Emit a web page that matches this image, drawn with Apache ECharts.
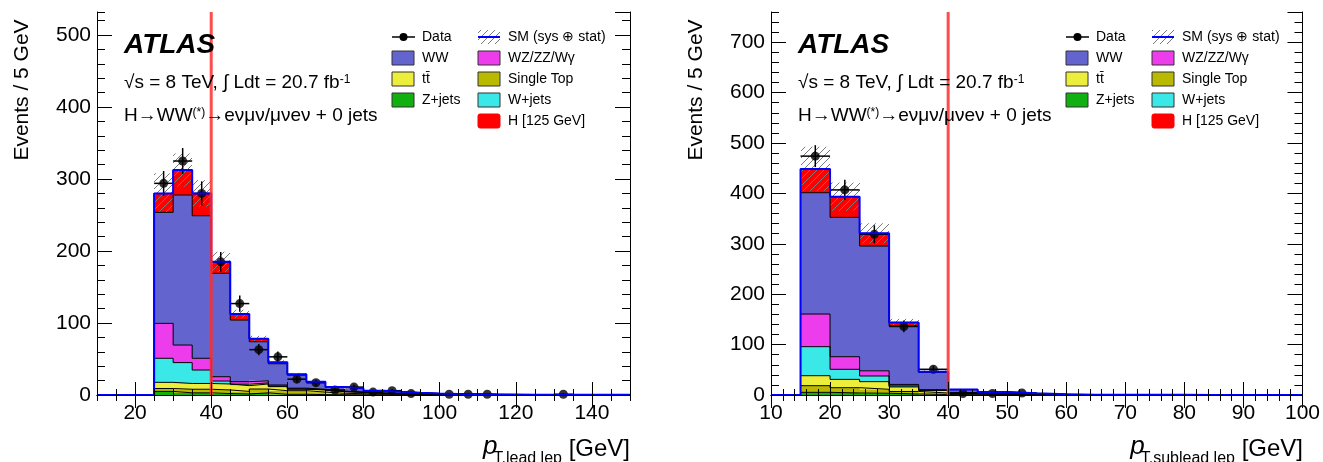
<!DOCTYPE html>
<html>
<head>
<meta charset="utf-8">
<script src="https://cdn.jsdelivr.net/npm/echarts@6.0.0/dist/echarts.min.js"></script>
<style>
html, body { margin: 0; padding: 0; background: #fff; }
#main { width: 1323px; height: 462px; }
</style>
</head>
<body>
<div id="main"></div>
<script>
var chartDom = document.getElementById('main');
var myChart = echarts.init(chartDom);
var option;

const FONT = '"Liberation Sans", Arial, Helvetica, sans-serif';

// Lower bin edges (5 GeV bins)
const leftEdges = [25, 30, 35, 40, 45, 50, 55, 60, 65, 70, 75, 80, 85, 90, 95,
                   100, 105, 110, 115, 120, 125, 130, 135, 140, 145];
const rightEdges = [15, 20, 25, 30, 35, 40, 45, 50, 55, 60, 65, 70, 75, 80, 85, 90, 95];

// Leading lepton pT, stacked backgrounds (bottom to top)
const leftZjets     = [5, 3, 3, 2, 1.5, 3, 1, 1, 0.5, 0.4, 0.3, 0.2, 0.1, 0.1, 0.1, 0, 0, 0, 0, 0, 0, 0, 0, 0, 0];
const leftSingleTop = [4, 5, 5, 5, 3.5, 5.3, 5, 5, 3.5, 2, 1.5, 1, 0.8, 0.5, 0.3, 0.2, 0.2, 0.1, 0.1, 0.1, 0.1, 0, 0, 0, 0];
const leftTtbar     = [8.6, 8, 8, 8.3, 8, 7, 5.6, 2, 3, 2.2, 1.7, 1.2, 0.9, 0.7, 0.5, 0.4, 0.3, 0.2, 0.2, 0.1, 0.1, 0.1, 0.1, 0.1, 0.1];
const leftWjets     = [33.4, 29, 18.7, 4.1, 2, 1.5, 0.8, 0.5, 0.3, 0.3, 0.2, 0.1, 0.1, 0.1, 0.05, 0, 0, 0, 0, 0, 0, 0, 0, 0, 0];
const leftWZ        = [48.5, 24.4, 16.3, 6, 3.5, 3, 1.5, 1, 0.7, 0.5, 0.4, 0.3, 0.2, 0.2, 0.1, 0.1, 0.1, 0.05, 0, 0, 0, 0, 0, 0, 0];
const leftWW        = [154.2, 208.4, 198, 143.6, 85.5, 54.2, 29.5, 18, 9.8, 5.2, 4.9, 3, 2.4, 1.6, 1, 0.8, 0.6, 0.5, 0.4, 0.3, 0.3, 0.2, 0.2, 0.15, 0.1];
const leftHiggs     = [26.3, 34.7, 31, 16, 8.5, 4.2, 2, 1.2, 0.7, 0.4, 0.2, 0.2, 0.1, 0.1, 0.05, 0, 0, 0, 0, 0, 0, 0, 0, 0, 0];
const leftSmErr     = [28, 23, 18.5, 14, 6, 4, 3, 2, 1.5, 1, 0.8, 0.6, 0.5, 0.4, 0.3, 0.2, 0.2, 0.1, 0.1, 0.1, 0.1, 0.1, 0.1, 0.1, 0.1];
const leftData      = [294, 325, 280, 185, 127, 63, 53, 22, 17, 7, 11, 4, 6, 2, null, 1, 1, 1, null, null, null, 1, null, null, null];

// Subleading lepton pT
const rightZjets     = [5.3, 4, 3.5, 2, 1, 0.3, 0.1, 0.1, 0, 0, 0, 0, 0, 0, 0, 0, 0];
const rightSingleTop = [13.2, 10.5, 7.8, 5, 3, 1.5, 0.8, 0.4, 0.2, 0.1, 0.1, 0, 0, 0, 0, 0, 0];
const rightTtbar     = [19.8, 16.5, 15.2, 9, 5, 2, 1.2, 0.6, 0.3, 0.15, 0.1, 0.1, 0.05, 0, 0, 0, 0];
const rightWjets     = [57.6, 20, 11.2, 2, 0.5, 0.3, 0.1, 0.05, 0, 0, 0, 0, 0, 0, 0, 0, 0];
const rightWZ        = [64.8, 25, 10.3, 3, 1, 0.5, 0.3, 0.2, 0.05, 0, 0, 0, 0, 0, 0, 0, 0];
const rightWW        = [240.7, 276.5, 247.6, 116, 34.5, 6, 3.5, 1.8, 0.9, 0.4, 0.4, 0.3, 0.2, 0.15, 0.1, 0.1, 0.05];
const rightHiggs     = [47, 41, 25.2, 7, 1, 0.4, 0.2, 0.1, 0, 0, 0, 0, 0, 0, 0, 0, 0];
const rightSmErr     = [44, 28, 20, 7, 3, 1, 0.6, 0.4, 0.2, 0.1, 0.1, 0.1, 0.05, 0, 0, 0, 0];
const rightData      = [474, 407, 319, 136, 51, 3, 3, 4, null, null, null, null, null, null, null, null, null];

const leftTicks = [20, 40, 60, 80, 100, 120, 140];

const colors = {
  zjets: '#10b010',
  stop: '#b9b900',
  ttbar: '#eded3b',
  wjets: '#3ae8e8',
  wz: '#ec3cec',
  ww: '#6464cf',
  higgs: '#ff0000'
};

// diagonal hatch for the SM uncertainty band
function hatchCanvas() {
  const c = document.createElement('canvas');
  c.width = 7; c.height = 7;
  const ctx = c.getContext('2d');
  ctx.strokeStyle = '#7a7a7a';
  ctx.lineWidth = 1;
  ctx.beginPath();
  ctx.moveTo(0, 7); ctx.lineTo(7, 0);
  ctx.moveTo(-1, 1); ctx.lineTo(1, -1);
  ctx.moveTo(6, 8); ctx.lineTo(8, 6);
  ctx.stroke();
  return c;
}
const hatch = { image: hatchCanvas(), repeat: 'repeat' };

function rectItem(fill) {
  return function (params, api) {
    const a = api.coord([api.value(0), api.value(3)]);
    const b = api.coord([api.value(1), api.value(2)]);
    const x0 = Math.round(a[0]), x1 = Math.round(b[0]);
    return {
      type: 'rect',
      shape: { x: x0, y: a[1], width: x1 - x0, height: b[1] - a[1] },
      style: { fill: fill }
    };
  };
}

function stepLine(edges, vals, xi, yi, xmin, color, width) {
  const pts = [[xmin, 0]];
  edges.forEach(function (e, i) { pts.push([e, vals[i]]); });
  pts.push([edges[edges.length - 1] + 5, vals[vals.length - 1]]);
  return {
    type: 'line', step: 'end', symbol: 'none', silent: true,
    xAxisIndex: xi, yAxisIndex: yi, data: pts,
    lineStyle: { color: color, width: width }
  };
}

function panelSeries(edges, comps, data, smErr, xi, yi, xmin, ymax) {
  const out = [];
  let cum = edges.map(function () { return 0; });
  const layers = [];
  comps.forEach(function (c) {
    const lo = cum.slice();
    const hi = cum.map(function (v, i) { return v + c.values[i]; });
    layers.push({ lo: lo, hi: hi, color: c.color });
    cum = hi;
  });
  layers.forEach(function (l) {
    out.push({
      type: 'custom', silent: true, xAxisIndex: xi, yAxisIndex: yi,
      data: edges.map(function (e, i) { return [e, e + 5, l.lo[i], l.hi[i]]; })
        .filter(function (d) { return d[3] > d[2]; }),
      renderItem: rectItem(l.color)
    });
  });
  layers.slice().reverse().forEach(function (l) {
    out.push(stepLine(edges, l.hi, xi, yi, xmin, '#000', 1));
  });
  // uncertainty band
  out.push({
    type: 'custom', silent: true, xAxisIndex: xi, yAxisIndex: yi,
    data: edges.map(function (e, i) {
      return [e, e + 5, Math.max(0, cum[i] - smErr[i]), cum[i] + smErr[i]];
    }).filter(function (d) { return d[3] - d[2] > 0.3; }),
    renderItem: rectItem(hatch)
  });
  out.push(stepLine(edges, cum, xi, yi, xmin, '#0000ff', 2));
  // cut line at 40 GeV
  out.push({
    type: 'line', symbol: 'none', silent: true, xAxisIndex: xi, yAxisIndex: yi,
    data: [[40, 0], [40, ymax]],
    lineStyle: { color: 'rgba(255,45,45,0.85)', width: 3 }
  });
  const pts = [];
  edges.forEach(function (e, i) {
    if (data[i] !== null) pts.push([e + 2.5, data[i], Math.sqrt(data[i])]);
  });
  out.push({
    type: 'custom', silent: true, xAxisIndex: xi, yAxisIndex: yi, data: pts,
    renderItem: function (params, api) {
      const x = api.value(0), y = api.value(1), e = api.value(2);
      const l = api.coord([x - 2.5, y]), r = api.coord([x + 2.5, y]);
      const t = api.coord([x, y + e]), b = api.coord([x, Math.max(0, y - e)]);
      return {
        type: 'group', children: [
          { type: 'line', shape: { x1: l[0], y1: l[1], x2: r[0], y2: r[1] }, style: { stroke: '#000', lineWidth: 1.5 } },
          { type: 'line', shape: { x1: t[0], y1: t[1], x2: b[0], y2: b[1] }, style: { stroke: '#000', lineWidth: 1.5 } }
        ]
      };
    }
  });
  out.push({
    type: 'scatter', silent: true, xAxisIndex: xi, yAxisIndex: yi,
    symbol: 'circle', symbolSize: 9, itemStyle: { color: '#000' },
    data: pts.map(function (p) { return [p[0], p[1]]; })
  });
  return out;
}

function compList(z, st, tt, wj, wz, ww, h) {
  return [
    { values: z, color: colors.zjets },
    { values: st, color: colors.stop },
    { values: tt, color: colors.ttbar },
    { values: wj, color: colors.wjets },
    { values: wz, color: colors.wz },
    { values: ww, color: colors.ww },
    { values: h, color: colors.higgs }
  ];
}

const LEFT_YMAX = 532;
const RIGHT_YMAX = 760;

// y axes: 0/1 short ticks, 2/3 long ticks (left panel); 4..7 the same for the right panel
let series = [];
series = series.concat(panelSeries(leftEdges,
  compList(leftZjets, leftSingleTop, leftTtbar, leftWjets, leftWZ, leftWW, leftHiggs),
  leftData, leftSmErr, 0, 2, 10, LEFT_YMAX));
series = series.concat(panelSeries(rightEdges,
  compList(rightZjets, rightSingleTop, rightTtbar, rightWjets, rightWZ, rightWW, rightHiggs),
  rightData, rightSmErr, 4, 6, 10, RIGHT_YMAX));

// text helpers
const mctx = document.createElement('canvas').getContext('2d');
function textWidth(t, font) { mctx.font = font; return mctx.measureText(t).width; }

function txt(x, y, text, size, extra) {
  const st = Object.assign({
    text: text, fill: '#000', fontSize: size, fontFamily: FONT,
    align: 'left', verticalAlign: 'middle',
    textAlign: 'left', textVerticalAlign: 'middle'
  }, extra || {});
  return { type: 'text', x: x, y: y, z: 100, style: st };
}

function legendEls(dx) {
  const els = [];
  const ys = [37, 58, 79, 100, 121];
  const c1 = 392 + dx, c2 = 478 + dx;
  const fs = 14;
  // Data
  els.push({ type: 'line', z: 100, shape: { x1: c1, y1: ys[0], x2: c1 + 23, y2: ys[0] }, style: { stroke: '#000', lineWidth: 1.5 } });
  els.push({ type: 'circle', z: 100, shape: { cx: c1 + 11.5, cy: ys[0], r: 4 }, style: { fill: '#000' } });
  els.push(txt(c1 + 30, ys[0], 'Data', fs));
  const boxes1 = [[colors.ww, 'WW'], [colors.ttbar, 'tt\u0304'], [colors.zjets, 'Z+jets']];
  boxes1.forEach(function (b, i) {
    els.push({ type: 'rect', z: 100, shape: { x: c1, y: ys[i + 1] - 7, width: 22, height: 14 }, style: { fill: b[0], stroke: '#333', lineWidth: 1 } });
    els.push(txt(c1 + 30, ys[i + 1], b[1], fs));
  });
  // SM band
  els.push({ type: 'rect', z: 100, shape: { x: c2, y: ys[0] - 7, width: 22, height: 14 }, style: { fill: hatch } });
  els.push({ type: 'line', z: 100, shape: { x1: c2, y1: ys[0], x2: c2 + 22, y2: ys[0] }, style: { stroke: '#0000ff', lineWidth: 2 } });
  els.push(txt(c2 + 30, ys[0], 'SM (sys \u2295 stat)', fs));
  const boxes2 = [[colors.wz, 'WZ/ZZ/W\u03b3'], [colors.stop, 'Single Top'], [colors.wjets, 'W+jets'], [colors.higgs, 'H [125 GeV]']];
  boxes2.forEach(function (b, i) {
    els.push({ type: 'rect', z: 100, shape: { x: c2, y: ys[i + 1] - 7, width: 22, height: 14, r: i === 3 ? 2 : 0 }, style: { fill: b[0], stroke: i === 3 ? b[0] : '#333', lineWidth: 1 } });
    els.push(txt(c2 + 30, ys[i + 1], b[1], fs));
  });
  return els;
}

function labelEls(dx) {
  const els = [];
  els.push(txt(124 + dx, 45, 'ATLAS', 28, { fontWeight: 'bold', fontStyle: 'italic' }));
  const rich = {
    n: { fontSize: 19, fontFamily: FONT, verticalAlign: 'bottom' },
    s: { fontSize: 12, fontFamily: FONT, verticalAlign: 'top' }
  };
  els.push(txt(124 + dx, 83, '{n|\u221as = 8 TeV, \u222b Ldt = 20.7 fb}{s|-1}', 19, { rich: rich }));
  els.push(txt(124 + dx, 116, '{n|H\u2192WW}{s|(*)}{n|\u2192e\u03bd\u03bc\u03bd/\u03bc\u03bde\u03bd + 0 jets}', 19, { rich: rich }));
  return els;
}

function yTitle(x) {
  return {
    type: 'text', x: x, y: 90, rotation: Math.PI / 2, z: 100,
    style: {
      text: 'Events / 5 GeV', fill: '#000', fontSize: 21, fontFamily: FONT,
      align: 'center', verticalAlign: 'middle', textAlign: 'center', textVerticalAlign: 'middle'
    }
  };
}

function xTitle(right, sub) {
  const fGev = '24px ' + FONT, fSub = '16px ' + FONT;
  const wGev = textWidth(' [GeV]', fGev);
  const wSub = textWidth(sub, fSub);
  return [
    txt(right, 449, ' [GeV]', 24, { align: 'right', textAlign: 'right' }),
    txt(right - wGev, 459, sub, 16, { align: 'right', textAlign: 'right' }),
    txt(right - wGev - wSub + 4, 447, 'p', 26, { align: 'right', textAlign: 'right', fontStyle: 'italic' })
  ];
}

const DX = 674;
let graphics = [];
graphics = graphics.concat(legendEls(0), legendEls(DX), labelEls(0), labelEls(DX));
graphics.push(yTitle(22), yTitle(22 + DX));
graphics = graphics.concat(xTitle(630, 'T,lead lep'), xTitle(1303, 'T,sublead lep'));

const axisLineStyle = { show: true, lineStyle: { color: '#000', width: 1 } };
const labelStyle = { color: '#000', fontSize: 21, fontFamily: FONT };

function yMinor(grid, pos, max) {
  return {
    type: 'value', gridIndex: grid, position: pos, min: 0, max: max, interval: 20, z: 10,
    axisLine: axisLineStyle,
    axisTick: { show: true, inside: true, length: 8, lineStyle: { color: '#000' } },
    axisLabel: { show: false }, splitLine: { show: false }
  };
}
function yMajor(grid, pos, max, showLabel) {
  return {
    type: 'value', gridIndex: grid, position: pos, min: 0, max: max, interval: 100, z: 10,
    axisLine: { show: false },
    axisTick: { show: true, inside: true, length: 15, lineStyle: { color: '#000' } },
    axisLabel: Object.assign({ show: showLabel, margin: 6, showMaxLabel: false,
      formatter: function (v) { return v % 100 === 0 ? String(v) : ''; } }, labelStyle),
    splitLine: { show: false }
  };
}

option = {
  animation: false,
  backgroundColor: '#fff',
  grid: [
    { left: 97, top: 12, width: 533, height: 383 },
    { left: 771, top: 12, width: 532, height: 383 }
  ],
  xAxis: [
    { type: 'value', gridIndex: 0, position: 'bottom', min: 10, max: 150, interval: 5, z: 10,
      axisLine: axisLineStyle,
      axisTick: { show: true, inside: true, length: 6, lineStyle: { color: '#000' } },
      axisLabel: { show: false }, splitLine: { show: false } },
    { type: 'value', gridIndex: 0, position: 'bottom', min: 10, max: 150, z: 10,
      axisLine: { show: false },
      axisTick: { show: true, inside: true, length: 13, customValues: leftTicks, lineStyle: { color: '#000' } },
      axisLabel: Object.assign({ show: true, margin: 8, customValues: leftTicks }, labelStyle),
      splitLine: { show: false } },
    { type: 'value', gridIndex: 0, position: 'top', min: 10, max: 150, interval: 5, z: 10,
      axisLine: axisLineStyle,
      axisTick: { show: true, inside: true, length: 6, lineStyle: { color: '#000' } },
      axisLabel: { show: false }, splitLine: { show: false } },
    { type: 'value', gridIndex: 0, position: 'top', min: 10, max: 150, z: 10,
      axisLine: { show: false },
      axisTick: { show: true, inside: true, length: 13, customValues: leftTicks, lineStyle: { color: '#000' } },
      axisLabel: { show: false }, splitLine: { show: false } },
    { type: 'value', gridIndex: 1, position: 'bottom', min: 10, max: 100, interval: 10, z: 10,
      axisLine: axisLineStyle,
      axisTick: { show: true, inside: true, length: 13, lineStyle: { color: '#000' } },
      minorTick: { show: true, splitNumber: 5, length: 6, lineStyle: { color: '#000' } },
      axisLabel: Object.assign({ show: true, margin: 8 }, labelStyle),
      splitLine: { show: false } },
    { type: 'value', gridIndex: 1, position: 'top', min: 10, max: 100, interval: 10, z: 10,
      axisLine: axisLineStyle,
      axisTick: { show: true, inside: true, length: 13, lineStyle: { color: '#000' } },
      minorTick: { show: true, splitNumber: 5, length: 6, lineStyle: { color: '#000' } },
      axisLabel: { show: false }, splitLine: { show: false } }
  ],
  yAxis: [
    yMinor(0, 'left', LEFT_YMAX),
    yMinor(0, 'right', LEFT_YMAX),
    yMajor(0, 'left', LEFT_YMAX, true),
    yMajor(0, 'right', LEFT_YMAX, false),
    yMinor(1, 'left', RIGHT_YMAX),
    yMinor(1, 'right', RIGHT_YMAX),
    yMajor(1, 'left', RIGHT_YMAX, true),
    yMajor(1, 'right', RIGHT_YMAX, false)
  ],
  graphic: graphics,
  series: series
};

option && myChart.setOption(option);
</script>
</body>
</html>
